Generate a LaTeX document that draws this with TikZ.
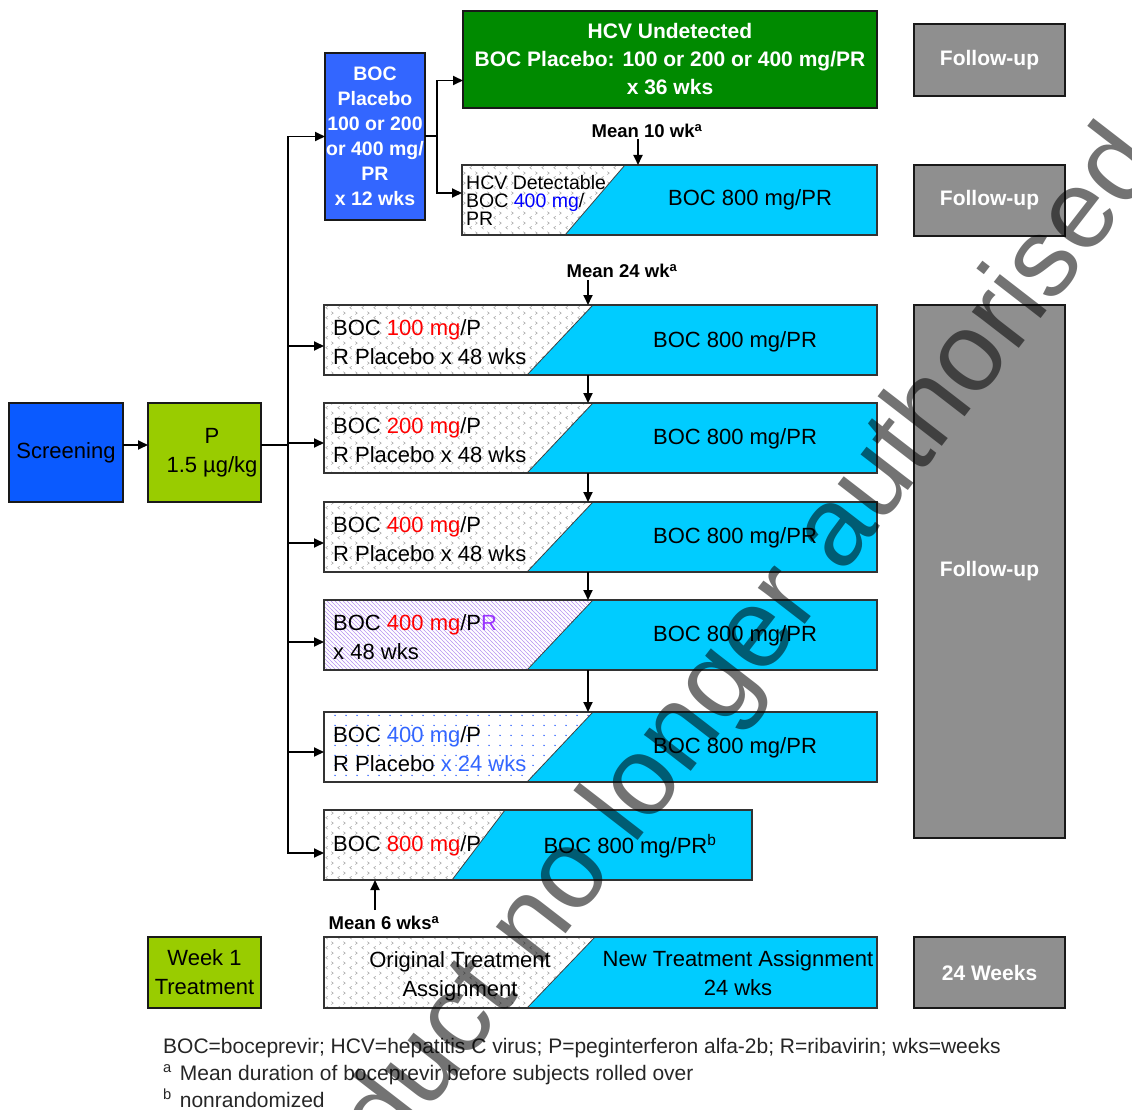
\documentclass[tikz,border=0pt]{standalone}
\usepackage{fontspec}
\setmainfont{Liberation Sans}
\usetikzlibrary{arrows.meta,patterns}

% colours
\definecolor{scrblue}{RGB}{10,90,255}
\definecolor{plblue}{RGB}{51,102,255}
\definecolor{pgreen}{RGB}{153,204,0}
\definecolor{dkgreen}{RGB}{0,138,0}
\definecolor{cyanc}{RGB}{0,204,255}
\definecolor{fgray}{RGB}{143,143,143}
\definecolor{dosered}{RGB}{255,0,0}
\definecolor{doseblue}{RGB}{0,0,255}
\definecolor{lightblue}{RGB}{51,102,255}
\definecolor{rpurple}{RGB}{153,51,255}
\definecolor{hatchpurple}{RGB}{185,150,240}

% fill textures
\pgfdeclarepatternformonly{chevrons}{\pgfqpoint{0pt}{0pt}}{\pgfqpoint{12pt}{10pt}}{\pgfqpoint{12pt}{10pt}}{%
  \pgfsetlinewidth{0.6pt}%
  \pgfpathmoveto{\pgfqpoint{4pt}{1pt}}\pgfpathlineto{\pgfqpoint{2pt}{2.5pt}}\pgfpathlineto{\pgfqpoint{4pt}{4pt}}%
  \pgfpathmoveto{\pgfqpoint{8pt}{6pt}}\pgfpathlineto{\pgfqpoint{10pt}{7.5pt}}\pgfpathlineto{\pgfqpoint{8pt}{9pt}}%
  \pgfusepath{stroke}}
\pgfdeclarepatternformonly{sparsedots}{\pgfqpoint{0pt}{0pt}}{\pgfqpoint{11pt}{10pt}}{\pgfqpoint{11pt}{10pt}}{%
  \pgfpathcircle{\pgfqpoint{5.5pt}{5pt}}{0.9pt}\pgfusepath{fill}}
\pgfdeclarepatternformonly{backhatch}{\pgfqpoint{-1pt}{-1pt}}{\pgfqpoint{5pt}{5pt}}{\pgfqpoint{4pt}{4pt}}{%
  \pgfsetlinewidth{0.6pt}%
  \pgfpathmoveto{\pgfqpoint{-0.5pt}{4.5pt}}\pgfpathlineto{\pgfqpoint{4.5pt}{-0.5pt}}\pgfusepath{stroke}}

% split treatment bar: cyan part to the right of a slanted edge
\newcommand\splitfill[3]{%
  \fill[cyanc, draw=black!75, line width=0.8pt]
    ([xshift=#2]#1.north west) -- (#1.north east) -- (#1.south east)
    -- ([xshift=#3]#1.south west) -- cycle;
  \draw[rowline] (#1.north west) rectangle (#1.south east);}

\tikzset{
  box/.style={draw=black!90, line width=1.8pt, inner sep=0pt, outer sep=0pt, anchor=north west},
  bar/.style={inner sep=0pt, outer sep=0pt, anchor=north west, minimum height=70pt},
  rowline/.style={draw=black!80, line width=1.5pt},
  arr/.style={line width=1.8pt, -{Triangle[length=10pt,width=9pt]}},
  link/.style={line width=1.8pt},
  whitebold/.style={text=white, font=\bfseries\fontsize{21}{28}\selectfont, align=center},
  plain/.style={font=\fontsize{22}{29}\selectfont, inner sep=0pt},
  meanlbl/.style={font=\bfseries\fontsize{18.5}{20}\selectfont, inner sep=0pt},
  note/.style={font=\fontsize{21}{24}\selectfont, text=black!85, inner sep=0pt, anchor=base west},
  chev/.style={pattern=chevrons, pattern color=gray!70},
}

\begin{document}
\begin{tikzpicture}[x=1pt, y=-1pt]
\useasboundingbox (0,0) rectangle (1132,1110);

% left boxes
\node[box, fill=scrblue, minimum width=114pt, minimum height=99pt, font=\fontsize{22}{29}\selectfont] (scr) at (9,403) {Screening};
\node[box, fill=pgreen, minimum width=113pt, minimum height=99pt] (pb) at (148,403) {};
\node[plain, align=center] (pbt) at (212,453) {P\\1.5 µg/kg};

% blinded placebo arm
\node[box, fill=plblue, minimum width=100pt, minimum height=167pt, whitebold,
      font=\bfseries\fontsize{19.5}{25}\selectfont] (pl) at (325,53)
  {BOC\\Placebo\\100 or 200\\or 400 mg/\\PR\\x 12 wks};
\node[box, fill=dkgreen, minimum width=414pt, minimum height=97pt, whitebold] (hu) at (463,11)
  {HCV Undetected\\BOC Placebo: 100 or 200 or 400 mg/PR\\x 36 wks};
\node[bar, chev, minimum width=415pt] (hd) at (462,165) {};
\splitfill{hd}{163pt}{103pt}
\node[font=\fontsize{19.5}{18}\selectfont, inner sep=0pt, align=left, anchor=west] (hdl) at (466,200)
  {HCV Detectable\\BOC \textcolor{doseblue}{400 mg}/\\PR};
\node[plain] (hdr) at (750,200) {BOC 800 mg/PR};

% follow-up boxes
\node[box, fill=fgray, minimum width=151pt, minimum height=72pt, whitebold] (f1) at (914,24) {Follow-up};
\node[box, fill=fgray, minimum width=151pt, minimum height=71pt, whitebold] (f2) at (914,165) {Follow-up};
\node[box, fill=fgray, minimum width=151pt, minimum height=533pt, whitebold] (f3) at (914,305) {Follow-up};

% randomised arms
\node[bar, chev, minimum width=553pt] (r1) at (324,305) {};
\splitfill{r1}{269pt}{203pt}
\node[bar, chev, minimum width=553pt] (r2) at (324,403) {};
\splitfill{r2}{269pt}{203pt}
\node[bar, chev, minimum width=553pt] (r3) at (324,502) {};
\splitfill{r3}{269pt}{203pt}
\node[bar, pattern=backhatch, pattern color=hatchpurple, minimum width=553pt] (r4) at (324,600) {};
\splitfill{r4}{269pt}{203pt}
\node[bar, pattern=sparsedots, pattern color=lightblue, minimum width=553pt] (r5) at (324,712) {};
\splitfill{r5}{269pt}{203pt}
\node[bar, chev, minimum width=428pt] (r6) at (324,810) {};
\splitfill{r6}{181pt}{128pt}

\node[plain, align=left, anchor=west] (r1l) at (333,342) {BOC \textcolor{dosered}{100 mg}/P\\R Placebo x 48 wks};
\node[plain, align=left, anchor=west] (r2l) at (333,440) {BOC \textcolor{dosered}{200 mg}/P\\R Placebo x 48 wks};
\node[plain, align=left, anchor=west] (r3l) at (333,539) {BOC \textcolor{dosered}{400 mg}/P\\R Placebo x 48 wks};
\node[plain, align=left, anchor=west] (r4l) at (333,637) {BOC \textcolor{dosered}{400 mg}/P\textcolor{rpurple}{R}\\x 48 wks};
\node[plain, align=left, anchor=west] (r5l) at (333,749) {BOC \textcolor{lightblue}{400 mg}/P\\R Placebo \textcolor{lightblue}{x 24 wks}};
\node[plain, anchor=west] (r6l) at (333,846) {BOC \textcolor{dosered}{800 mg}/P};

\node[plain] (r1r) at (735,342) {BOC 800 mg/PR};
\node[plain] (r2r) at (735,439) {BOC 800 mg/PR};
\node[plain] (r3r) at (735,538) {BOC 800 mg/PR};
\node[plain] (r4r) at (735,636) {BOC 800 mg/PR};
\node[plain] (r5r) at (735,748) {BOC 800 mg/PR};
\node[plain] (r6r) at (630,846) {BOC 800 mg/PR\textsuperscript{b}};

% legend row
\node[box, fill=pgreen, minimum width=113pt, minimum height=71pt, plain, align=center] (wk) at (148,937) {Week 1\\Treatment};
\node[bar, chev, minimum width=553pt, minimum height=71pt] (lg) at (324,937) {};
\splitfill{lg}{271pt}{203pt}
\node[plain, align=center] (lgl) at (460,976) {Original Treatment\\Assignment};
\node[plain, align=center] (lgr) at (738,973) {New Treatment Assignment\\24 wks};
\node[box, fill=fgray, minimum width=151pt, minimum height=71pt, whitebold] (fw) at (914,937) {24 Weeks};

% mean roll-over labels
\node[meanlbl] (m10) at (647,131) {Mean 10 wk\textsuperscript{a}};
\node[meanlbl] (m24) at (622,271) {Mean 24 wk\textsuperscript{a}};
\node[meanlbl] (m6) at (384,923) {Mean 6 wks\textsuperscript{a}};
\coordinate (a10) at (638,139);
\coordinate (a24) at (588,280);
\coordinate (a6) at (375,910);

% connectors
\coordinate (tk) at (288,445);
\coordinate (sp) at (437,136);
\draw[arr] (scr.east |- tk) -- (pb.west |- tk);
\draw[link] (pb.east |- tk) -- (tk);
\draw[arr] (tk) |- (pl.west);
\draw[arr] (tk) |- ([yshift=-6pt]r1.west);
\draw[arr] (tk) |- ([yshift=-5pt]r2.west);
\draw[arr] (tk) |- ([yshift=-6pt]r3.west);
\draw[arr] (tk) |- ([yshift=-7pt]r4.west);
\draw[arr] (tk) |- ([yshift=-5pt]r5.west);
\draw[arr] (tk) |- ([yshift=-8pt]r6.west);
\draw[link] (pl.east |- sp) -- (sp);
\draw[arr] (sp) |- ([yshift=-21pt]hu.west);
\draw[arr] (sp) |- ([yshift=7pt]hd.west);
\draw[arr] (a10) -- (a10 |- hd.north);
\draw[arr] (a24) -- (a24 |- r1.north);
\draw[arr] ([xshift=264pt]r1.south west) -- ([xshift=264pt]r2.north west);
\draw[arr] ([xshift=264pt]r2.south west) -- ([xshift=264pt]r3.north west);
\draw[arr] ([xshift=264pt]r3.south west) -- ([xshift=264pt]r4.north west);
\draw[arr] ([xshift=264pt]r4.south west) -- ([xshift=264pt]r5.north west);
\draw[arr] (a6) -- (a6 |- r6.south);

% footnotes
\node[note] (n1) at (163,1053) {BOC=boceprevir; HCV=hepatitis C virus; P=peginterferon alfa-2b; R=ribavirin; wks=weeks};
\node[note] (n2) at (163,1080) {\textsuperscript{a}\hspace{8pt}Mean duration of boceprevir before subjects rolled over};
\node[note] (n3) at (163,1107) {\textsuperscript{b}\hspace{8pt}nonrandomized};

% overprinted notice
\begin{scope}
\clip (0,0) rectangle (1132,1110);
\node[anchor=base west, rotate=52.3, inner sep=0pt, text=black, text opacity=0.55,
      font=\fontsize{112}{112}\selectfont] (wm) at (283,1300) {Product no longer authorised};
\end{scope}
\end{tikzpicture}
\end{document}
